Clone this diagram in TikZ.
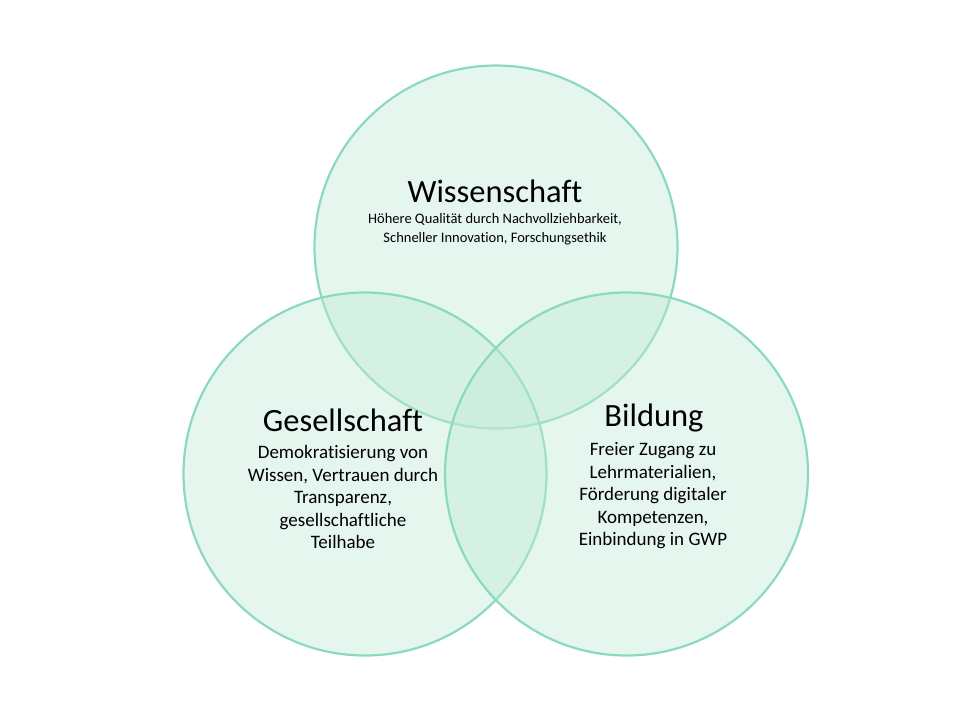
\documentclass[tikz,border=0pt]{standalone}
\usepackage{fontspec}
\setmainfont{Carlito}[Ligatures=NoCommon]
\definecolor{ringline}{RGB}{140,218,190}
\definecolor{ringfill}{RGB}{190,234,214}
\begin{document}
\begin{tikzpicture}[x=1pt,y=-1pt,
  ring/.style={draw=ringline,line width=2.2pt,fill=ringfill,fill opacity=0.4},
  title/.style={font=\fontsize{32.5}{34}\selectfont,text=black,inner sep=0pt},
  sub/.style={align=center,text=black,inner sep=0pt},
]
\useasboundingbox[fill=white] (0,0) rectangle (960,720);
\path[ring] (496,247) circle (181.5);
\path[ring] (365,474) circle (181.5);
\path[ring] (626.5,474) circle (181.5);
\node[title] (tw) at (495,191) {Wissenschaft};
\node[sub,font=\fontsize{14.5}{19}\selectfont] (sw) at (495,229) {Höhere Qualität durch Nachvollziehbarkeit,\\Schneller Innovation, Forschungsethik};
\node[title] (tg) at (343,420) {Gesellschaft};
\node[sub,font=\fontsize{19}{22.5}\selectfont] (sg) at (343,497) {Demokratisierung von\\Wissen, Vertrauen durch\\Transparenz,\\gesellschaftliche\\Teilhabe};
\node[title] (tb) at (654,418) {Bildung};
\node[sub,font=\fontsize{19}{22.5}\selectfont] (sb) at (653,496) {Freier Zugang zu\\Lehrmaterialien,\\Förderung digitaler\\Kompetenzen,\\Einbindung in GWP};
\end{tikzpicture}
\end{document}
